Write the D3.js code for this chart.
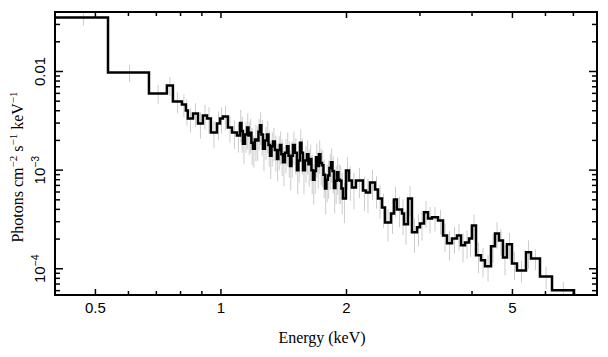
<!DOCTYPE html>
<html><head><meta charset="utf-8">
<script src="https://cdn.jsdelivr.net/npm/d3@7"></script>
<style>body{margin:0;background:#fff}</style></head>
<body><svg id="c" width="608" height="357"></svg>
<script>
// Bin edges (keV), flux per bin, relative error per bin
const edges = [0.400,0.536,0.672,0.742,0.767,0.806,0.824,0.833,0.857,0.881,0.905,0.926,0.946,0.978,0.995,1.011,1.039,1.063,1.092,1.111,
1.120,1.129,1.142,1.155,1.164,1.174,1.183,1.193,1.206,1.220,1.230,1.240,1.250,1.261,1.275,1.289,1.300,1.311,1.322,1.333,
1.347,1.362,1.373,1.385,1.396,1.408,1.424,1.440,1.452,1.464,1.476,1.488,1.504,1.521,1.534,1.547,1.560,1.573,1.590,1.608,
1.621,1.635,1.648,1.662,1.676,1.690,1.704,1.718,1.732,1.747,1.761,1.776,1.790,1.805,1.820,1.836,1.851,1.866,1.881,1.897,
1.913,1.929,1.945,1.961,
1.994,2.027,2.061,2.107,2.190,2.227,2.277,2.341,2.380,2.433,2.474,2.557,2.600,2.643,2.717,2.747,2.809,2.871,2.952,3.001,3.068,3.137,3.207,3.315,3.408,3.484,3.581,3.681,3.764,3.848,3.934,4.000,4.089,4.203,4.297,4.442,4.541,4.642,4.745,4.851,4.987,5.127,5.388,5.539,5.821,6.221,7.024];
const flux = [0.0352,0.00977,0.00599,0.00721,0.00497,0.00463,0.00403,0.00334,0.00375,0.00297,
0.00358,0.00334,0.00241,0.00297,0.00334,0.00350,0.00271,0.00241,0.00225,
0.00300,0.00250,0.00185,0.00230,0.00270,0.00225,0.00240,0.00190,0.00165,0.00205,
0.00200,0.00245,0.00285,0.00230,0.00165,0.00200,0.00230,0.00180,0.00140,0.00175,
0.00195,0.00160,0.00130,0.00160,0.00180,0.00145,0.00120,0.00150,0.00175,0.00140,
0.00110,0.00140,0.00180,0.00150,0.00100,0.00125,0.00190,0.00150,0.00100,0.00125,
0.00145,0.00115,0.00130,0.00100,0.00080,0.00098,0.00135,0.00110,0.00145,0.00118,
0.00112,0.00090,0.00065,0.00080,0.00088,0.00105,0.00120,0.00098,0.00066,0.00078,
0.00095,0.00080,0.00078,0.00065,
0.000517,0.000993,0.000786,0.000668,0.000786,0.000623,0.000594,0.000750,0.000638,
0.000517,0.000419,0.000295,0.000364,0.000505,0.000400,0.000364,0.000282,0.000517,0.000234,
0.000263,0.000288,0.000373,0.000324,0.000332,0.000309,0.000218,0.000181,0.000203,0.000218,
0.000173,0.000185,0.000203,0.000275,0.000137,0.000122,0.000106,0.000169,0.000228,0.000194,
0.000130,0.000177,0.000113,0.0000963,0.000147,0.000127,0.0000837,0.0000604];
const relErr = [0.17,0.2,0.22,0.22,0.24,0.26,0.3,0.28,0.27,0.3,
0.28,0.3,0.3,0.32,0.3,0.28,0.3,0.32,0.33,
0.36,0.4,0.38,0.35,0.4,0.37,0.38,0.41,0.36,0.4,
0.38,0.35,0.37,0.4,0.41,0.37,0.36,0.4,0.42,0.38,
0.37,0.4,0.41,0.38,0.37,0.4,0.43,0.38,0.37,0.4,
0.43,0.4,0.37,0.4,0.43,0.4,0.36,0.4,0.43,0.4,
0.38,0.41,0.4,0.43,0.44,0.41,0.38,0.41,0.37,0.4,
0.4,0.42,0.45,0.41,0.42,0.4,0.38,0.41,0.45,0.42,
0.41,0.43,0.42,0.45,
0.44,0.36,0.38,0.4,0.34,0.38,0.38,0.34,0.36,
0.38,0.38,0.36,0.38,0.34,0.34,0.4,0.38,0.33,0.38,
0.36,0.33,0.3,0.3,0.28,0.28,0.32,0.33,0.3,0.3,
0.33,0.32,0.35,0.3,0.34,0.33,0.3,0.32,0.3,0.3,
0.34,0.3,0.32,0.25,0.32,0.24,0.26,0.22];
const xMajorTicks = [0.5,1,2,5];
const xMinorTicks = [0.6,0.7,0.8,0.9,3,4,6,7];
const xTickLabels = ["0.5","1","2","5"];
const yMajorTicks = [1e-4,1e-3,1e-2];
const yTickLabels = [["10","\u22124"],["10","\u22123"],["0.01",null]];

const svg = d3.select("#c");
const m = {l:55, r:597, t:12, b:295};
const x = d3.scaleLog().domain([0.4, 7.975]).range([m.l, m.r]);
const y = d3.scaleLog().domain([5.42e-5, 0.0401]).range([m.b, m.t]);

svg.append("defs").append("clipPath").attr("id","clip")
  .append("rect").attr("x",m.l).attr("y",m.t).attr("width",m.r-m.l).attr("height",m.b-m.t);

const plot = svg.append("g").attr("clip-path","url(#clip)");

// error bars
const bins = flux.map((f,i)=>({lo:edges[i], hi:edges[i+1], f, e:relErr[i]}));
plot.selectAll("line.err").data(bins).enter().append("line")
  .attr("class","err")
  .attr("x1", d=>x((d.lo+d.hi)/2)).attr("x2", d=>x((d.lo+d.hi)/2))
  .attr("y1", d=>y(d.f*(1+d.e))).attr("y2", d=>y(d.f*(1-d.e)))
  .attr("stroke","#cccccc").attr("stroke-width",1);

// step line
const pts = bins.map(d=>[d.lo, d.f]);
pts.push([edges[edges.length-1], flux[flux.length-1]]);
pts.push([edges[edges.length-1], y.domain()[0]]);
plot.append("path")
  .attr("d", d3.line().x(d=>x(d[0])).y(d=>y(d[1])).curve(d3.curveStepAfter)(pts))
  .attr("fill","none").attr("stroke","#000").attr("stroke-width",2.5)
  .attr("stroke-linejoin","miter");

// ticks
const tk = svg.append("g").attr("stroke","#000").attr("stroke-width",1.5);
function xt(v, len){
  tk.append("line").attr("x1",x(v)).attr("x2",x(v)).attr("y1",m.b).attr("y2",m.b-len);
  tk.append("line").attr("x1",x(v)).attr("x2",x(v)).attr("y1",m.t).attr("y2",m.t+len);
}
xMajorTicks.forEach(v=>xt(v,6));
xMinorTicks.forEach(v=>xt(v,4));
const yAll = y.ticks(50).filter(v=>v>=y.domain()[0] && v<=y.domain()[1]);
yAll.forEach(v=>{
  const major = yMajorTicks.some(t=>Math.abs(Math.log10(t)-Math.log10(v))<1e-6);
  const len = major ? 8 : 5;
  tk.append("line").attr("x1",m.l).attr("x2",m.l+len).attr("y1",y(v)).attr("y2",y(v));
  tk.append("line").attr("x1",m.r).attr("x2",m.r-len).attr("y1",y(v)).attr("y2",y(v));
});

// frame
svg.append("rect").attr("x",m.l).attr("y",m.t).attr("width",m.r-m.l).attr("height",m.b-m.t)
  .attr("fill","none").attr("stroke","#000").attr("stroke-width",2);

const sans = "'Liberation Sans', Arial, Helvetica, sans-serif";
const serif = "'Liberation Serif', 'Times New Roman', serif";
xMajorTicks.forEach((v,i)=>{
  svg.append("text").attr("x",x(v)).attr("y",313).attr("text-anchor","middle")
    .attr("font-family",sans).attr("font-size",15).text(xTickLabels[i]);
});
yMajorTicks.forEach((v,i)=>{
  const t = svg.append("text").attr("transform",`translate(45,${y(v)}) rotate(-90)`)
    .attr("text-anchor","middle").attr("font-family",sans).attr("font-size",15);
  const [base, sup] = yTickLabels[i];
  t.append("tspan").text(base);
  if (sup) t.append("tspan").attr("dy",-6).attr("font-size",10.5).text(sup);
});

svg.append("text").attr("x",322).attr("y",343).attr("text-anchor","middle")
  .attr("font-family",serif).attr("font-size",16).text("Energy (keV)");
const yt = svg.append("text").attr("transform","translate(23,167) rotate(-90)")
  .attr("text-anchor","middle").attr("font-family",serif).attr("font-size",16);
yt.append("tspan").text("Photons cm");
yt.append("tspan").attr("dy",-6).attr("font-size",11).text("\u22122");
yt.append("tspan").attr("dy",6).text(" s");
yt.append("tspan").attr("dy",-6).attr("font-size",11).text("\u22121");
yt.append("tspan").attr("dy",6).text(" keV");
yt.append("tspan").attr("dy",-6).attr("font-size",11).text("\u22121");
</script></body></html>
